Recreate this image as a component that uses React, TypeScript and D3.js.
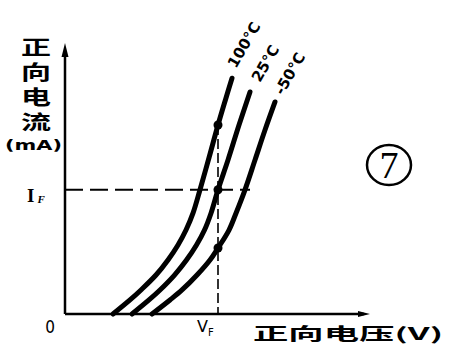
import React from "react";
import * as d3 from "d3";

// Forward voltage (V) vs forward current (mA) for three temperatures
const curveNames = ["100°C", "25°C", "-50°C"];
const v100 = [0.48, 0.65, 0.76, 0.91, 1.03, 1.13, 1.21, 1.28, 1.35, 1.442, 1.53, 1.604, 1.67];
const i100 = [0, 1.56, 2.67, 4.33, 6.0, 7.67, 9.33, 11.2, 13.8, 17.44, 21.0, 23.78, 26.2];
const v25 = [0.67, 0.84, 0.95, 1.095, 1.215, 1.315, 1.395, 1.46, 1.53, 1.63, 1.74, 1.85];
const i25 = [0, 1.56, 2.67, 4.33, 6.0, 7.67, 9.33, 11.2, 13.8, 17.11, 21.0, 24.67];
const vm50 = [0.87, 1.05, 1.17, 1.32, 1.45, 1.53, 1.64, 1.71, 1.8, 1.9, 2.0, 2.1];
const im50 = [0, 1.56, 2.67, 4.33, 6.0, 7.33, 9.33, 11.2, 13.8, 17.11, 20.44, 23.56];
const markerV = [1.53, 1.53, 1.53];
const markerI = [21.0, 13.8, 7.33];
const VF = 1.53;
const IF = 13.8;
const dashEndV = 1.85;
const xDomain = [0, 3];
const yDomain = [0, 30];
const yLabelText = "正向电流";

export default function App() {
  const W = 457, H = 358;
  const x = d3.scaleLinear().domain(xDomain).range([65, 365]);
  const y = d3.scaleLinear().domain(yDomain).range([314, 44]);
  const series = [
    { v: v100, i: i100 },
    { v: v25, i: i25 },
    { v: vm50, i: im50 },
  ];
  const line = d3
    .line<[number, number]>()
    .x((d) => x(d[0]))
    .y((d) => y(d[1]))
    .curve(d3.curveCatmullRom.alpha(0.5));

  const x0 = x(0), y0 = y(0);
  const xEnd = x(3.05), yTop = y(30.1);

  const labelPos = [
    [236, 69],
    [260, 83],
    [283, 96],
  ];

  const cjk = "'Noto Sans CJK SC', 'Noto Sans CJK JP', sans-serif";

  return (
    <svg
      width={W}
      height={H}
      style={{ position: "absolute", left: 0, top: 0, background: "#fff" }}
    >
      <rect width={W} height={H} fill="#fff" />
      {/* axes */}
      <line x1={x0} y1={y0} x2={x0} y2={yTop + 8} stroke="#000" strokeWidth={2.5} />
      <path d={`M${x0 - 3.5},${yTop + 14} L${x0},${yTop} L${x0 + 3.5},${yTop + 14} Z`} fill="#000" />
      <line x1={x0} y1={y0} x2={xEnd - 6} y2={y0} stroke="#000" strokeWidth={2.5} />
      <path d={`M${xEnd - 12},${y0 - 3} L${xEnd},${y0} L${xEnd - 12},${y0 + 3} Z`} fill="#000" />

      {/* dashed guides */}
      <line
        x1={x0}
        y1={y(IF)}
        x2={x(dashEndV)}
        y2={y(IF)}
        stroke="#000"
        strokeWidth={2}
        strokeDasharray="18 7"
      />
      <line
        x1={x(VF)}
        y1={y(markerI[0])}
        x2={x(VF)}
        y2={y0}
        stroke="#000"
        strokeWidth={1.6}
        strokeDasharray="10 4"
      />

      {/* curves */}
      {series.map((s, k) => (
        <path
          key={k}
          d={line(s.v.map((v, j) => [v, s.i[j]] as [number, number])) || ""}
          fill="none"
          stroke="#000"
          strokeWidth={5}
          strokeLinecap="round"
        />
      ))}
      {markerV.map((v, k) => (
        <circle key={k} cx={x(v)} cy={y(markerI[k])} r={4.5} fill="#000" />
      ))}

      {/* curve labels */}
      {curveNames.map((n, k) => (
        <text
          key={n}
          transform={`translate(${labelPos[k][0]},${labelPos[k][1]}) rotate(-60)`}
          fontFamily="'DejaVu Sans', sans-serif"
          fontWeight="bold"
          fontSize={15}
        >
          {n}
        </text>
      ))}

      {/* y axis label (vertical) */}
      <text
        transform="translate(36,0) scale(1.5,1)"
        x={0}
        y={37}
        fontFamily={cjk}
        fontWeight="bold"
        fontSize={20}
        letterSpacing={5}
        style={{ writingMode: "vertical-rl" }}
      >
        {yLabelText}
      </text>
      <text
        x={5}
        y={150}
        fontFamily="'DejaVu Sans', sans-serif"
        fontWeight="bold"
        fontSize={14.5}
        textLength={57}
        lengthAdjust="spacingAndGlyphs"
      >
        (mA)
      </text>

      {/* I_F */}
      <text x={27} y={202} fontFamily="'Liberation Serif', serif" fontWeight="bold" fontSize={19}>
        I
        <tspan fontSize={11} fontStyle="italic" dy={1} dx={3}>
          F
        </tspan>
      </text>

      {/* 0 */}
      <text
        x={50}
        y={333}
        textAnchor="middle"
        fontFamily="'DejaVu Sans Condensed', 'DejaVu Sans', sans-serif"
        fontSize={17}
      >
        0
      </text>

      {/* V_F */}
      <text x={197} y={332} fontFamily="'DejaVu Sans', sans-serif" fontSize={16}>
        V
        <tspan fontSize={10} dy={4}>
          F
        </tspan>
      </text>

      {/* x axis label */}
      <text
        x={253}
        y={340}
        fontFamily={cjk}
        fontSize={17}
        fontWeight="bold"
        textLength={190}
        lengthAdjust="spacingAndGlyphs"
      >
        正向电压(V)
      </text>

      {/* circled 7 */}
      <ellipse cx={389} cy={165} rx={22} ry={20} fill="none" stroke="#000" strokeWidth={2.5} />
      <text
        x={389}
        y={178}
        textAnchor="middle"
        fontFamily="'Liberation Serif', serif"
        fontSize={38}
      >
        7
      </text>
    </svg>
  );
}
